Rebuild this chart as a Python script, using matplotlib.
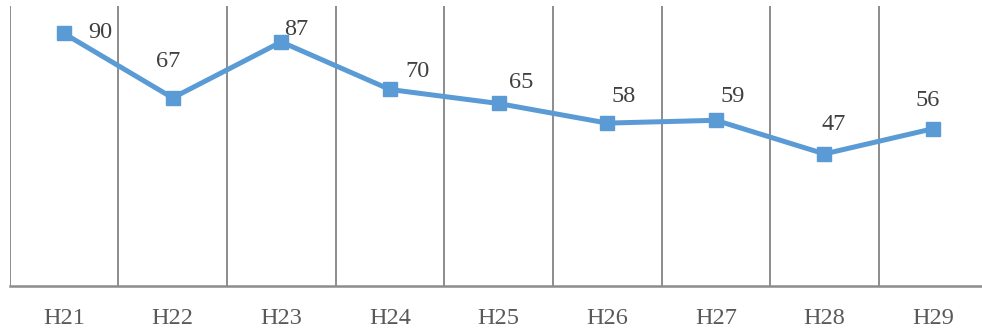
import matplotlib.pyplot as plt
import numpy as np

years = ["H21", "H22", "H23", "H24", "H25", "H26", "H27", "H28", "H29"]
counts = [90, 67, 87, 70, 65, 58, 59, 47, 56]

# where each value label sits relative to its marker (points)
label_offsets = [(26, 1), (-3, 26), (11, 9), (20, 13), (16, 15), (12, 19), (12, 17), (7, 21), (-4, 20)]

line_color = "#5B9BD5"
grid_color = "#8C8C8C"

fig = plt.figure(figsize=(9.82, 3.34), dpi=100)
ax = fig.add_axes([9.7 / 982, 1 - 285.5 / 334, 977.7 / 982, 280 / 334])

x = np.arange(len(years))
ax.plot(x, counts, color=line_color, linewidth=3.6, marker="s", markersize=10.5,
        markerfacecolor=line_color, markeredgecolor=line_color, zorder=3, clip_on=False)

for xi, val, (dx, dy) in zip(x, counts, label_offsets):
    ax.annotate(str(val), (xi, val), xytext=(dx, dy), textcoords="offset points",
                ha="center", va="center", fontsize=17.5, family="Liberation Serif",
                color="#404040")

# vertical separators between categories
for b in np.arange(len(years) + 1) - 0.5:
    ax.axvline(b, color=grid_color, linewidth=1.4, zorder=1)

ax.set_xlim(-0.5, len(years) - 0.5)
ax.set_ylim(0, 100)
ax.set_xticks(x)
ax.set_xticklabels(years, fontsize=17.5, family="Liberation Serif", color="#595959")
ax.tick_params(axis="x", length=0, pad=16)
ax.set_yticks([])

for side in ["top", "right", "left"]:
    ax.spines[side].set_visible(False)
ax.spines["bottom"].set_color(grid_color)
ax.spines["bottom"].set_linewidth(1.8)

fig.savefig("out.png", dpi=100)
